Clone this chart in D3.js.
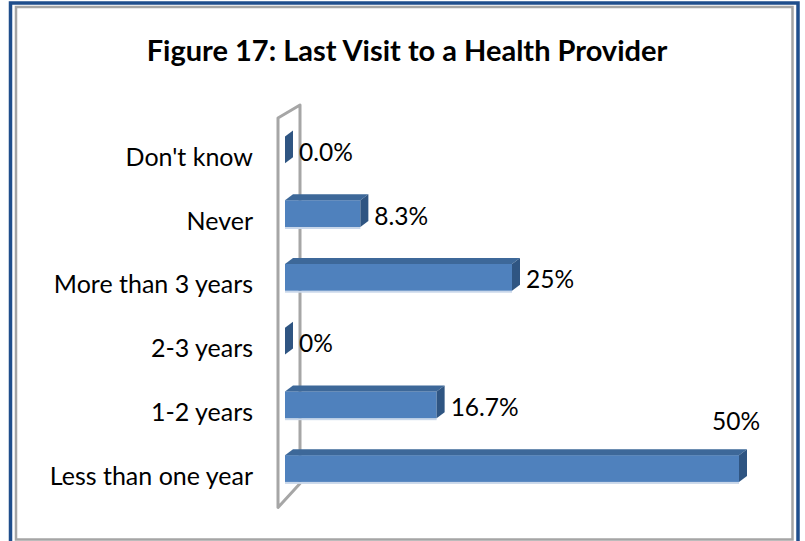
<!DOCTYPE html>
<html>
<head>
<meta charset="utf-8">
<script src="https://cdn.jsdelivr.net/npm/d3@7"></script>
<style>
  html, body { margin: 0; padding: 0; background: #fff; }
  svg { display: block; }
  text { font-family: Lato, 'Open Sans', sans-serif; fill: #000; }
</style>
</head>
<body>
<svg id="chart"></svg>
<script>
// chart values, top row first
const categories = ["Don't know", 'Never', 'More than 3 years', '2-3 years', '1-2 years', 'Less than one year'];
const values = [0, 8.3, 25, 0, 16.7, 50];
const valueLabels = ['0.0%', '8.3%', '25%', '0%', '16.7%', '50%'];
const title = 'Figure 17: Last Visit to a Health Provider';

const W = 805;
const H = 541;
const DX = 8; // bar depth, sideways
const DY = 6; // bar depth, upwards

const FRONT = '#4f81bd';
const TOP = '#3d6899';
const SIDE = '#2f5582';

const $svg = d3.select('#chart').attr('width', W).attr('height', H);

const x = d3.scaleLinear().domain([0, 50]).range([285, 739]);
const y = d3.scaleBand()
	.domain(categories)
	.range([118, 500.4])
	.paddingInner(0.58)
	.paddingOuter(0.29);

// frames
$svg.append('rect')
	.attr('x', 10.5).attr('y', 3).attr('width', 787.5).attr('height', 560)
	.attr('fill', 'none').attr('stroke', '#1f4e8c').attr('stroke-width', 3.5);
$svg.append('rect')
	.attr('x', 16).attr('y', 7).attr('width', 776.5).attr('height', 532.5)
	.attr('fill', '#fff').attr('stroke', '#a5a5a5').attr('stroke-width', 2.5);

$svg.append('text')
	.attr('x', 407).attr('y', 61)
	.attr('text-anchor', 'middle')
	.style('font-weight', 'bold')
	.style('font-size', '29px')
	.text(title);

// back wall behind the bars
const x0 = x(0);
const [r0, r1] = y.range();
const wall = [
	[x0 - 7, r0],
	[x0 + 15, r0 - 13],
	[x0 + 15, r1 - 17],
	[x0 - 7, r1 + 7]
];
$svg.append('path')
	.attr('d', d3.line()(wall) + 'Z')
	.attr('fill', 'none')
	.attr('stroke', '#a6a6a6')
	.attr('stroke-width', 3)
	.attr('stroke-linejoin', 'round');

const rows = categories.map((c, i) => ({ c, v: values[i], label: valueLabels[i] }));
const h = y.bandwidth();
const vmax = d3.max(values);

const $bars = $svg.selectAll('.bar')
	.data(rows)
	.enter()
	.append('g')
	.attr('class', 'bar');

// faint shadow under each bar
$bars.filter(d => d.v > 0).append('rect')
	.attr('x', x0)
	.attr('y', d => y(d.c) + h)
	.attr('width', d => x(d.v) - x0)
	.attr('height', 2)
	.attr('fill', '#c9d7ea');

$bars.filter(d => d.v > 0).append('rect')
	.attr('x', x0)
	.attr('y', d => y(d.c))
	.attr('width', d => x(d.v) - x0)
	.attr('height', h)
	.attr('fill', FRONT);

$bars.filter(d => d.v > 0).append('path')
	.attr('d', d => {
		const t = y(d.c);
		const x1 = x(d.v);
		return d3.line()([[x0, t], [x0 + DX, t - DY], [x1 + DX, t - DY], [x1, t]]) + 'Z';
	})
	.attr('fill', TOP);

$bars.append('path')
	.attr('d', d => {
		const t = y(d.c);
		const x1 = x(d.v);
		return d3.line()([[x1, t], [x1 + DX, t - DY], [x1 + DX, t + h - DY], [x1, t + h]]) + 'Z';
	})
	.attr('fill', SIDE);

// value labels
$bars.append('text')
	.attr('x', d => d.v === vmax ? x(d.v) - 3 : x(d.v) + DX + 6)
	.attr('y', d => d.v === vmax ? y(d.c) - 25 : y(d.c) + h / 2 + 11)
	.attr('text-anchor', d => d.v === vmax ? 'middle' : 'start')
	.style('font-size', '24.5px')
	.text(d => d.label);

// category labels
$svg.selectAll('.cat')
	.data(categories)
	.enter()
	.append('text')
	.attr('class', 'cat')
	.attr('x', 253)
	.attr('y', d => y(d) + h / 2 + 16)
	.attr('text-anchor', 'end')
	.style('font-size', '25px')
	.text(d => d);
</script>
</body>
</html>
